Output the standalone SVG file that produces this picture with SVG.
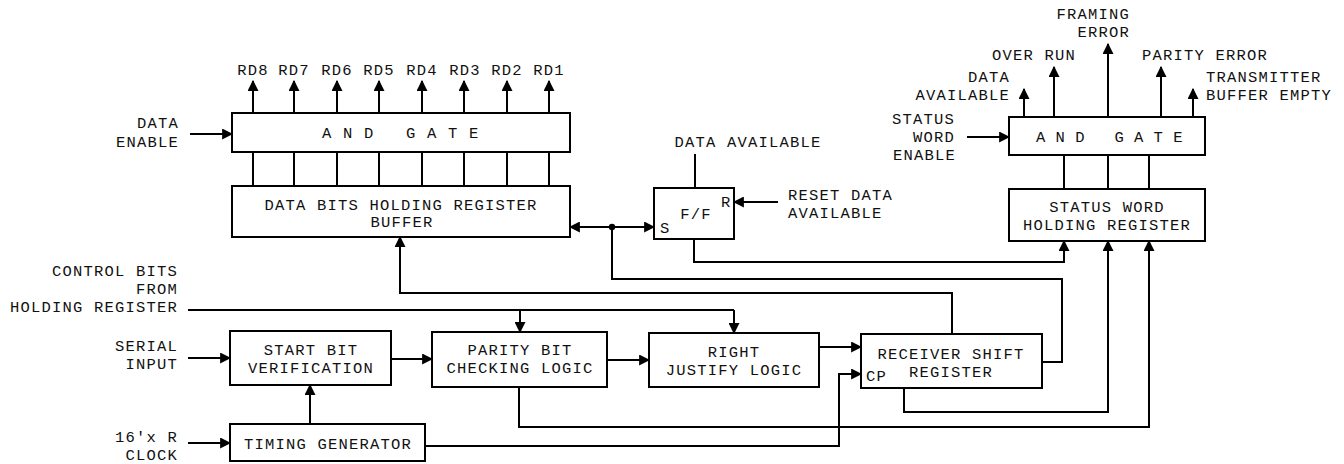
<svg xmlns="http://www.w3.org/2000/svg" width="1344" height="464" viewBox="0 0 1344 464">
<defs>
<style>
text{font-family:"Liberation Mono","DejaVu Sans Mono",monospace;font-size:15.5px;letter-spacing:1.2px;fill:#111}
.m{text-anchor:middle}.e{text-anchor:end}
.pre{white-space:pre}
rect{fill:#fff;stroke:#000;stroke-width:2}
#connectors path,#connectors line{fill:none;stroke:#000;stroke-width:2}
.a{marker-end:url(#ah)}
</style>
<marker id="ah" viewBox="0 0 10 10" refX="9" refY="5" markerWidth="11" markerHeight="11" markerUnits="userSpaceOnUse" orient="auto">
<path d="M0,0 L10,5 L0,10 z" fill="#000"/>
</marker>
</defs>
<rect x="0" y="0" width="1344" height="464" style="fill:#fff;stroke:none"/>

<g id="connectors">
<line class="a" x1="190" y1="134" x2="232" y2="134"/>
<line class="a" x1="253" y1="113" x2="253" y2="81"/>
<line class="a" x1="294" y1="113" x2="294" y2="81"/>
<line class="a" x1="337" y1="113" x2="337" y2="81"/>
<line class="a" x1="379" y1="113" x2="379" y2="81"/>
<line class="a" x1="422" y1="113" x2="422" y2="81"/>
<line class="a" x1="464" y1="113" x2="464" y2="81"/>
<line class="a" x1="507" y1="113" x2="507" y2="81"/>
<line class="a" x1="549" y1="113" x2="549" y2="81"/>
<line x1="253" y1="152" x2="253" y2="186"/>
<line x1="294" y1="152" x2="294" y2="186"/>
<line x1="337" y1="152" x2="337" y2="186"/>
<line x1="379" y1="152" x2="379" y2="186"/>
<line x1="422" y1="152" x2="422" y2="186"/>
<line x1="464" y1="152" x2="464" y2="186"/>
<line x1="507" y1="152" x2="507" y2="186"/>
<line x1="549" y1="152" x2="549" y2="186"/>
<line x1="695" y1="154" x2="695" y2="188"/>
<line class="a" x1="778" y1="202" x2="734" y2="202"/>
<line class="a" x1="612" y1="227" x2="570" y2="227"/>
<line class="a" x1="612" y1="227" x2="654" y2="227"/>
<path d="M1042,362 H1062 V279 H612 V227"/>
<path class="a" d="M694,239 V262 H1064 V241"/>
<path class="a" d="M952,334 V293 H400 V237"/>
<line x1="188" y1="310" x2="734" y2="310"/>
<line class="a" x1="520" y1="310" x2="520" y2="332"/>
<line class="a" x1="734" y1="310" x2="734" y2="333"/>
<line class="a" x1="188" y1="358" x2="230" y2="358"/>
<line class="a" x1="391" y1="359" x2="432" y2="359"/>
<line class="a" x1="607" y1="360" x2="649" y2="360"/>
<line class="a" x1="819" y1="347" x2="861" y2="347"/>
<line class="a" x1="310" y1="424" x2="310" y2="385"/>
<line class="a" x1="188" y1="443" x2="230" y2="443"/>
<path class="a" d="M425,446 H839 V374 H861"/>
<path class="a" d="M519,387 V427 H1149 V241"/>
<path class="a" d="M904,388 V412 H1108 V241"/>
<line class="a" x1="967" y1="137" x2="1009" y2="137"/>
<line class="a" x1="1024" y1="117" x2="1024" y2="89"/>
<line class="a" x1="1054" y1="117" x2="1054" y2="67"/>
<line class="a" x1="1108" y1="117" x2="1108" y2="44"/>
<line class="a" x1="1161" y1="117" x2="1161" y2="67"/>
<line class="a" x1="1193" y1="117" x2="1193" y2="89"/>
<line x1="1064" y1="155" x2="1064" y2="189"/>
<line x1="1108" y1="155" x2="1108" y2="189"/>
<line x1="1149" y1="155" x2="1149" y2="189"/>
<circle cx="612" cy="227" r="3.2" fill="#000"/>
</g>

<g id="data-and-gate">
<rect x="232" y="113" width="338" height="39"/>
<text x="322" y="138" class="pre">A N D   G A T E</text>
</g>
<g id="data-bits-register">
<rect x="232" y="186" width="338" height="51"/>
<text x="401" y="210" class="m">DATA BITS HOLDING REGISTER</text>
<text x="402" y="227" class="m">BUFFER</text>
</g>
<g id="flip-flop">
<rect x="654" y="188" width="80" height="51"/>
<text x="696" y="219" class="m">F/F</text>
<text x="721" y="207">R</text>
<text x="660" y="233">S</text>
</g>
<g id="status-and-gate">
<rect x="1009" y="117" width="196" height="38"/>
<text x="1036" y="142" class="pre" style="letter-spacing:0.5px">A N D   G A T E</text>
</g>
<g id="status-word-register">
<rect x="1009" y="189" width="196" height="52"/>
<text x="1107" y="212" class="m">STATUS WORD</text>
<text x="1107" y="230" class="m">HOLDING REGISTER</text>
</g>
<g id="start-bit">
<rect x="230" y="331" width="161" height="54"/>
<text x="311" y="355" class="m">START BIT</text>
<text x="311" y="373" class="m">VERIFICATION</text>
</g>
<g id="timing-generator">
<rect x="230" y="424" width="195" height="37"/>
<text x="328" y="449" class="m">TIMING GENERATOR</text>
</g>
<g id="parity-check">
<rect x="432" y="332" width="175" height="55"/>
<text x="520" y="355" class="m">PARITY BIT</text>
<text x="520" y="373" class="m">CHECKING LOGIC</text>
</g>
<g id="right-justify">
<rect x="649" y="333" width="170" height="54"/>
<text x="734" y="357" class="m">RIGHT</text>
<text x="734" y="375" class="m">JUSTIFY LOGIC</text>
</g>
<g id="receiver-shift">
<rect x="861" y="334" width="181" height="54"/>
<text x="951" y="359" class="m">RECEIVER SHIFT</text>
<text x="951" y="377" class="m">REGISTER</text>
<text x="866" y="381">CP</text>
</g>

<g id="labels">
<text x="253" y="75" class="m">RD8</text>
<text x="294" y="75" class="m">RD7</text>
<text x="337" y="75" class="m">RD6</text>
<text x="379" y="75" class="m">RD5</text>
<text x="422" y="75" class="m">RD4</text>
<text x="465" y="75" class="m">RD3</text>
<text x="507" y="75" class="m">RD2</text>
<text x="549" y="75" class="m">RD1</text>
<text x="179" y="128" class="e">DATA</text>
<text x="179" y="147" class="e">ENABLE</text>
<text x="748" y="147" class="m">DATA AVAILABLE</text>
<text x="788" y="200">RESET DATA</text>
<text x="788" y="218">AVAILABLE</text>
<text x="178" y="276" class="e">CONTROL BITS</text>
<text x="178" y="294" class="e">FROM</text>
<text x="178" y="312" class="e">HOLDING REGISTER</text>
<text x="178" y="351" class="e">SERIAL</text>
<text x="178" y="369" class="e">INPUT</text>
<text x="178" y="442" class="e">16'x R</text>
<text x="178" y="460" class="e">CLOCK</text>
<text x="1130" y="19" class="e">FRAMING</text>
<text x="1130" y="37" class="e">ERROR</text>
<text x="992" y="60">OVER RUN</text>
<text x="1142" y="60">PARITY ERROR</text>
<text x="1010" y="82" class="e">DATA</text>
<text x="1010" y="100" class="e">AVAILABLE</text>
<text x="1206" y="82">TRANSMITTER</text>
<text x="1206" y="100">BUFFER EMPTY</text>
<text x="955" y="124" class="e">STATUS</text>
<text x="955" y="142" class="e">WORD</text>
<text x="956" y="160" class="e">ENABLE</text>
</g>
</svg>
